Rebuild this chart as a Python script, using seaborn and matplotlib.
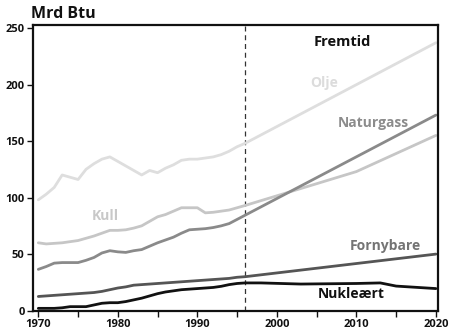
import matplotlib
matplotlib.use("Agg")
import matplotlib.pyplot as plt
import seaborn as sns
import pandas as pd
from matplotlib.ticker import MultipleLocator

# Energy consumption, historical (1970-1995) and projected to 2020, in billion Btu
years_olje = [1970, 1971, 1972, 1973, 1974, 1975, 1976, 1977, 1978, 1979, 1980, 1981, 1982,
              1983, 1984, 1985, 1986, 1987, 1988, 1989, 1990, 1991, 1992, 1993, 1994, 1995,
              1996, 2020]
olje = [98, 103, 109, 120, 118, 116, 125, 130, 134, 136, 132, 128, 124,
        120, 124, 122, 126, 129, 133, 134, 134, 135, 136, 138, 141, 145,
        148, 237]

years_kull = [1970, 1971, 1972, 1973, 1974, 1975, 1976, 1977, 1978, 1979, 1980, 1981, 1982,
              1983, 1984, 1985, 1986, 1987, 1988, 1989, 1990, 1991, 1992, 1993, 1994, 1995,
              1996, 2010, 2020]
kull = [60, 59, 59.5, 60, 61, 62, 64, 66, 68.5, 71, 71, 71.5, 73,
        75, 79, 83, 85, 88, 91, 91, 91, 86.5, 87, 88, 89, 91,
        93, 123, 155]

years_gass = [1970, 1971, 1972, 1973, 1974, 1975, 1976, 1977, 1978, 1979, 1980, 1981, 1982,
              1983, 1984, 1985, 1986, 1987, 1988, 1989, 1990, 1991, 1992, 1993, 1994,
              2020]
naturgass = [36.5, 39, 42, 42.5, 42.5, 42.5, 44.5, 47, 51, 53, 52, 51.5, 53,
             54, 57, 60, 62.5, 65, 68.5, 71.5, 72, 72.5, 73.5, 75, 77,
             173]

years_forny = [1970, 1972, 1974, 1976, 1977, 1978, 1979, 1980, 1981, 1982, 1983, 1984, 1985,
               1986, 1987, 1988, 1989, 1990, 1991, 1992, 1993, 1994, 1995, 1996, 2020]
fornybare = [12.5, 13.5, 14.5, 15.5, 16, 17, 18.5, 20, 21, 22.5, 23, 23.5, 24,
             24.5, 25, 25.5, 26, 26.5, 27, 27.5, 28, 28.5, 29.5, 30, 50]

years_nukl = [1970, 1971, 1972, 1973, 1974, 1975, 1976, 1977, 1978, 1979, 1980, 1981, 1982,
              1983, 1984, 1985, 1986, 1987, 1988, 1989, 1990, 1991, 1992, 1993, 1994, 1995,
              1996, 1998, 2003, 2010, 2013, 2015, 2020]
nukleaert = [2, 2, 2, 2.5, 3.5, 3.5, 3.5, 5, 6.5, 7, 7, 8, 9.5,
             11, 13, 15, 16.5, 17.5, 18.5, 19, 19.5, 20, 20.5, 21.5, 23, 24,
             24.5, 24.5, 23.5, 24, 24.5, 21.7, 19.5]

series_names = ["Olje", "Kull", "Naturgass", "Fornybare", "Nukleært"]
line_colors = ["#dedede", "#c6c6c6", "#8a8a8a", "#555555", "#111111"]
label_colors = ["#dcdcdc", "#c8c8c8", "#8c8c8c", "#747474", "#111111"]

x_ticks = [1970, 1980, 1990, 2000, 2010, 2020]
y_ticks = [0, 50, 100, 150, 200, 250]
split_year = 1996

frames = []
for name, yrs, vals in zip(series_names,
                           [years_olje, years_kull, years_gass, years_forny, years_nukl],
                           [olje, kull, naturgass, fornybare, nukleaert]):
    frames.append(pd.DataFrame({"År": yrs, "Verdi": vals, "Kilde": name}))
df = pd.concat(frames, ignore_index=True)

sns.set_theme(style="white")
plt.rcParams["font.family"] = ["Open Sans", "DejaVu Sans"]

fig = plt.figure(figsize=(4.5, 3.31), dpi=100)
ax = fig.add_axes([0.0733, 0.0616, 0.9007, 0.8629])

sns.lineplot(data=df, x="År", y="Verdi", hue="Kilde", hue_order=series_names,
             palette=dict(zip(series_names, line_colors)), linewidth=2.0,
             legend=False, ax=ax, sort=True, estimator=None)

ax.axvline(split_year, color="#333333", linewidth=0.9, linestyle=(0, (4, 3)), zorder=1)

ax.set_xlim(1969.33, 2020.3)
ax.set_ylim(0, 252.7)
ax.set_xticks(x_ticks)
ax.xaxis.set_minor_locator(MultipleLocator(5))
ax.set_yticks(y_ticks)
ax.set_xlabel("")
ax.set_ylabel("")

for side, sp in ax.spines.items():
    sp.set_visible(True)
    sp.set_color("#111111")
    sp.set_linewidth(1.6)

ax.tick_params(axis="both", which="both", direction="out", color="#111111",
               width=1.0, bottom=True, left=True, top=False, right=False)
ax.tick_params(axis="both", which="major", length=4, pad=2, labelsize=8)
ax.tick_params(axis="x", which="minor", length=4)
for lab in ax.get_xticklabels() + ax.get_yticklabels():
    lab.set_fontweight("bold")
    lab.set_color("#111111")

label_pos = {
    "Olje": (2005.9, 201.3),
    "Kull": (1978.4, 83.6),
    "Naturgass": (2012.1, 166.2),
    "Fornybare": (2013.6, 57.1),
    "Nukleært": (2009.3, 14.6),
}
for name, col in zip(series_names, label_colors):
    x, y = label_pos[name]
    ax.text(x, y, name, color=col, fontsize=10, fontweight="bold",
            ha="center", va="center")

ax.text(2008.2, 237.9, "Fremtid", color="#111111", fontsize=10.5,
        fontweight="bold", ha="center", va="center")

fig.text(31 / 450, 1 - 13.5 / 331, "Mrd Btu", color="#111111", fontsize=11.5,
         fontweight="bold", ha="left", va="center")

fig.savefig("out.png", dpi=100)
